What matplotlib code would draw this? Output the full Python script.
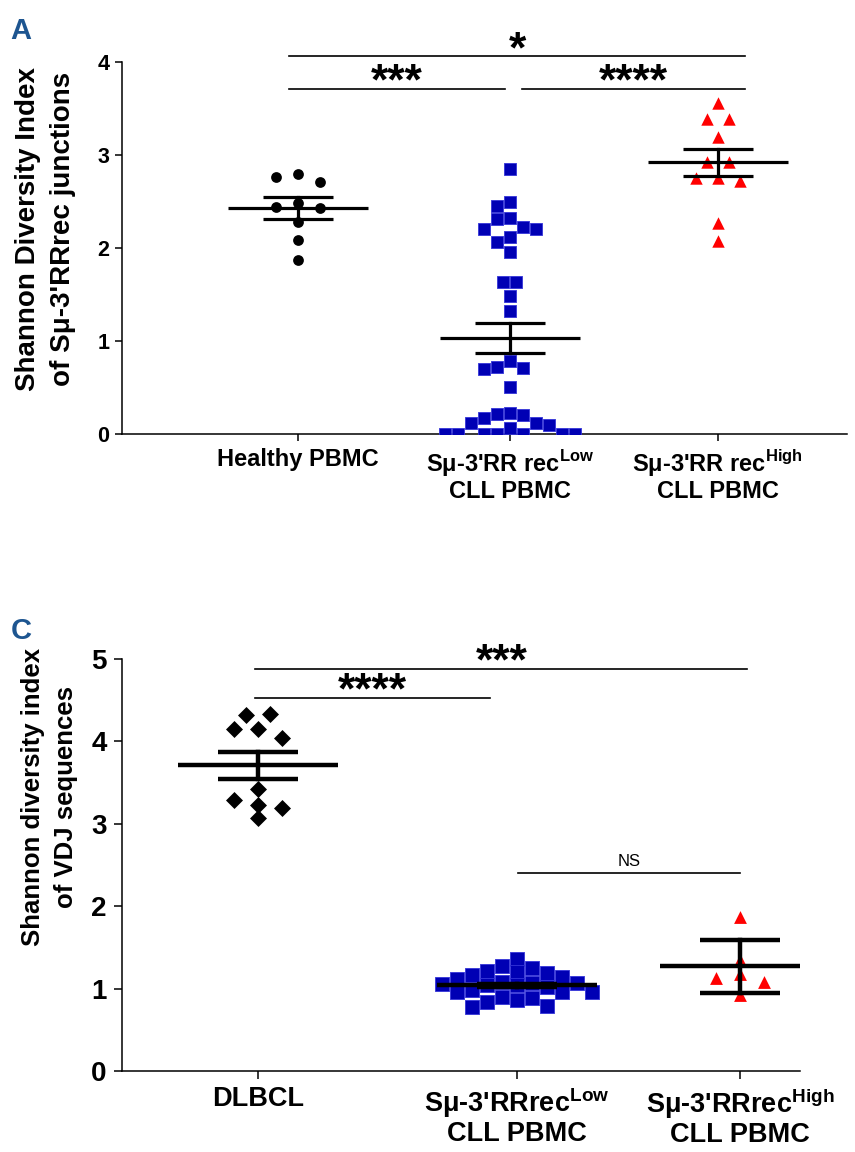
import matplotlib
matplotlib.use('Agg')
import matplotlib.pyplot as plt
import numpy as np

plt.rcParams['font.family'] = ['Liberation Sans', 'DejaVu Sans']
plt.rcParams['font.weight'] = 'bold'
plt.rcParams['mathtext.fontset'] = 'custom'
plt.rcParams['mathtext.rm'] = 'Liberation Sans:bold'
plt.rcParams['mathtext.bf'] = 'Liberation Sans:bold'

# ---- panel A data (Shannon diversity of Smu-3'RRrec junctions) ----
healthy_a = [2.80, 2.76, 2.71, 2.48, 2.43, 2.44, 2.28, 2.09, 1.87]
low_a = [2.85, 2.49, 2.45, 2.32, 2.31, 2.23, 2.20, 2.20, 2.12, 2.06, 1.96,
         1.63, 1.63, 1.48, 1.32, 0.78, 0.72, 0.71, 0.70, 0.50, 0.23, 0.21,
         0.20, 0.17, 0.12, 0.12, 0.10, 0.06, 0, 0, 0, 0, 0, 0, 0]
high_a = [3.56, 3.39, 3.39, 3.19, 2.92, 2.92, 2.75, 2.75, 2.72, 2.27, 2.08]
mean_a = [2.43, 1.03, 2.92]
err_a = [0.115, 0.16, 0.145]
labels_a = ["Healthy PBMC",
            "S\u03bc-3'RR rec$^{\\rm Low}$\nCLL PBMC",
            "S\u03bc-3'RR rec$^{\\rm High}$\nCLL PBMC"]

# ---- panel C data (Shannon diversity of VDJ sequences) ----
dlbcl_c = [4.33, 4.32, 4.15, 4.15, 4.04, 3.42, 3.29, 3.23, 3.19, 3.07]
low_c = [1.36, 1.27, 1.25, 1.21, 1.20, 1.19, 1.16, 1.14, 1.12, 1.08, 1.07,
         1.07, 1.06, 1.04, 1.04, 1.02, 0.98, 0.96, 0.96, 0.96, 0.90, 0.89,
         0.86, 0.84, 0.79, 0.78]
high_c = [1.87, 1.35, 1.18, 1.13, 1.08, 0.92]
mean_c = [3.71, 1.04, 1.27]
err_c = [0.165, 0.02, 0.32]
labels_c = ["DLBCL",
            "S\u03bc-3'RRrec$^{\\rm Low}$\nCLL PBMC",
            "S\u03bc-3'RRrec$^{\\rm High}$\nCLL PBMC"]

BLUE = '#0000b4'
RED = '#ff0000'
PANEL = '#1d5590'


def swarm_x(ax, xc, vals, step, sx, sy):
    # simple beeswarm in pixel space, rows re-centred afterwards
    tr = ax.transData
    px = tr.transform((1, 0))[0] - tr.transform((0, 0))[0]
    ys = tr.transform(np.column_stack([np.full(len(vals), xc), vals]))[:, 1]
    offs = np.zeros(len(vals))
    placed = []
    cands = sorted([k * step / 2 for k in range(-40, 41)], key=lambda o: (abs(o), o))
    order = np.argsort(vals, kind='stable')[::-1]

    def free(i, o, skip):
        return all(abs(o - offs[j]) >= sx or abs(ys[i] - ys[j]) >= sy
                   for j in placed if j not in skip)

    for i in order:
        for o in cands:
            if free(i, o, ()):
                break
        offs[i] = o
        placed.append(i)
    # centre rows of near-equal values when that does not cause overlaps
    rows = [[order[0]]]
    for b in order[1:]:
        if abs(ys[rows[-1][0]] - ys[b]) < sy / 2:
            rows[-1].append(b)
        else:
            rows.append([b])
    for r in rows:
        shift = (offs[r].min() + offs[r].max()) / 2
        if shift == 0:
            continue
        old = offs[r].copy()
        offs[r] -= shift
        if not all(free(i, offs[i], r) for i in r):
            offs[r] = old
    return xc + offs / px


def mean_bar(ax, x, m, e, hw, cw, lw):
    ax.plot([x - hw, x + hw], [m, m], color='black', lw=lw, zorder=5, solid_capstyle='butt')
    ax.plot([x - cw, x + cw], [m + e, m + e], color='black', lw=lw, zorder=5, solid_capstyle='butt')
    ax.plot([x - cw, x + cw], [m - e, m - e], color='black', lw=lw, zorder=5, solid_capstyle='butt')
    ax.plot([x, x], [m - e, m + e], color='black', lw=lw, zorder=5)


def sig(ax, x0, x1, y, txt, size, dy, weight='bold'):
    ax.plot([x0, x1], [y, y], color='black', lw=1.2, clip_on=False)
    ax.annotate(txt, xy=((x0 + x1) / 2, y), xytext=(0, dy), textcoords='offset points',
                ha='center', va='baseline', fontsize=size, fontweight=weight,
                annotation_clip=False)


def style_axes(ax):
    for s in ['top', 'right']:
        ax.spines[s].set_visible(False)
    for s in ['left', 'bottom']:
        ax.spines[s].set_linewidth(1.1)
    ax.tick_params(direction='out', width=1.1, length=5)


fig = plt.figure(figsize=(8.55, 11.52), dpi=100)

# ================= panel A =================
pos_a = [0, 1, 1.98]
ax = fig.add_axes([0.1427, 0.6233, 0.848, 0.3229])
ax.set_xlim(-0.83, 2.59)
ax.set_ylim(0, 4)
style_axes(ax)

ax.scatter(swarm_x(ax, pos_a[0], healthy_a, 22, 21, 12), healthy_a, s=60, marker='o',
           color='black', zorder=3, linewidths=0)
ax.scatter(swarm_x(ax, pos_a[1], low_a, 13, 12.5, 12.5), low_a, s=70, marker='s',
           facecolor=BLUE, edgecolor='#3434d8', linewidths=0.6, zorder=3)
ax.scatter(swarm_x(ax, pos_a[2], high_a, 22, 12, 12), high_a, s=80, marker='^',
           color=RED, zorder=3, linewidths=0)
for x, m, e in zip(pos_a, mean_a, err_a):
    mean_bar(ax, x, m, e, 0.33, 0.165, 2.3)

ax.set_yticks([0, 1, 2, 3, 4])
ax.set_yticklabels(['0', '1', '2', '3', '4'], fontsize=15.5, fontweight='bold')
ax.set_xticks(pos_a)
ax.set_xticklabels(labels_a, fontsize=17, fontweight='bold', linespacing=1.05)
ax.tick_params(axis='y', pad=4)
ax.tick_params(axis='x', pad=5)
ax.set_ylabel("Shannon Diversity Index\nof S\u03bc-3'RRrec junctions", fontsize=20,
              fontweight='bold', linespacing=1.45)
ax.yaxis.label.set_verticalalignment('center')
ax.yaxis.set_label_coords(-0.105, 0.55)

sig(ax, -0.04, 2.11, 4.06, '*', 32, -4)
sig(ax, -0.04, 0.976, 3.71, '***', 32, -4)
sig(ax, 1.057, 2.11, 3.71, '****', 32, -4)

fig.text(0.012, 0.973, 'A', color=PANEL, fontsize=21, fontweight='bold', va='center')

# ================= panel C =================
pos_c = [0, 1, 1.861]
ax = fig.add_axes([0.1427, 0.0703, 0.793, 0.3576])
ax.set_xlim(-0.525, 2.093)
ax.set_ylim(0, 5)
style_axes(ax)

ax.scatter(swarm_x(ax, pos_c[0], dlbcl_c, 24, 13, 12), dlbcl_c, s=75, marker='D',
           color='black', zorder=3, linewidths=0)
ax.scatter(swarm_x(ax, pos_c[1], low_c, 15, 13, 13), low_c, s=105, marker='s',
           facecolor=BLUE, edgecolor='#3434d8', linewidths=0.6, zorder=3)
ax.scatter(swarm_x(ax, pos_c[2], high_c, 24, 13, 12), high_c, s=85, marker='^',
           color=RED, zorder=3, linewidths=0)
for x, m, e in zip(pos_c, mean_c, err_c):
    mean_bar(ax, x, m, e, 0.31, 0.155, 3.2)

ax.set_yticks([0, 1, 2, 3, 4, 5])
ax.set_yticklabels(['0', '1', '2', '3', '4', '5'], fontsize=20, fontweight='bold')
ax.set_xticks(pos_c)
ax.set_xticklabels(labels_c, fontsize=19.5, fontweight='bold', linespacing=1.05)
ax.tick_params(axis='y', pad=5, length=6)
ax.tick_params(axis='x', pad=5, length=6)
ax.set_ylabel("Shannon diversity index\nof VDJ sequences", fontsize=18.5,
              fontweight='bold', linespacing=1.45)
ax.yaxis.label.set_verticalalignment('center')
ax.yaxis.set_label_coords(-0.107, 0.665)

sig(ax, -0.01, 1.89, 4.88, '***', 32, -4)
sig(ax, -0.01, 0.896, 4.53, '****', 32, -4)
sig(ax, 1.004, 1.861, 2.40, 'NS', 12, 5, weight='normal')

fig.text(0.012, 0.452, 'C', color=PANEL, fontsize=21, fontweight='bold', va='center')

fig.savefig('out.png', dpi=100)
